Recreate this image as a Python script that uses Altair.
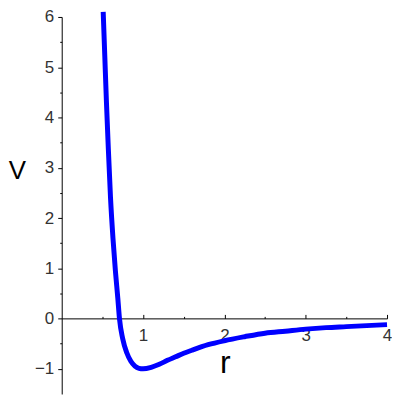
import altair as alt
import pandas as pd

# values
r_vals = [0.51, 0.53, 0.55, 0.57, 0.60, 0.63, 0.66, 0.69, 0.71, 0.75, 0.80, 0.85,
          0.90, 0.95, 1.00, 1.10, 1.20, 1.30, 1.40, 1.50, 1.60, 1.80, 2.00, 2.25,
          2.50, 2.75, 3.00, 3.25, 3.50, 3.75, 4.00]
v_vals = [6.1, 5.2, 4.3, 3.5, 2.4, 1.6, 0.95, 0.4, 0.0, -0.40, -0.68, -0.85,
          -0.945, -0.99, -1.0, -0.97, -0.91, -0.83, -0.76, -0.69, -0.63, -0.52, -0.44, -0.36,
          -0.29, -0.25, -0.21, -0.18, -0.16, -0.14, -0.12]

x_label_values = [1, 2, 3, 4]
x_tick_values = [0.5, 1, 1.5, 2, 2.5, 3, 3.5, 4]
y_tick_values = [-1, -0.5, 0, 0.5, 1, 1.5, 2, 2.5, 3, 3.5, 4, 4.5, 5, 5.5, 6]

df = pd.DataFrame({"r": r_vals, "V": v_vals})

FONT = "Liberation Sans"
LABEL_COLOR = "#333333"

xscale = alt.Scale(domain=[0, 4], nice=False, zero=False)
yscale = alt.Scale(domain=[-1.5, 6], nice=False, zero=False)

yaxis = alt.Axis(
    orient="left",
    values=y_tick_values,
    format="~g",
    labelExpr="datum.value % 1 == 0 ? datum.label : ''",
    grid=False,
    domainColor="black",
    tickColor="black",
    tickSize={"condition": {"test": "datum.value % 1 == 0", "value": 4}, "value": 2},
    labelFont=FONT,
    labelFontSize=17,
    labelColor=LABEL_COLOR,
    labelPadding=4,
    title="V",
    titleFont=FONT,
    titleFontSize=26,
    titleFontWeight="normal",
    titleColor="black",
    titleAngle=0,
    titleX=-45,
    titleY=154,
    titleAlign="center",
    titleBaseline="middle",
)

# axis carrying the line and labels, moved up to V = 0
xaxis_labels = alt.Axis(
    orient="bottom",
    offset=-76,
    values=x_label_values,
    format="~g",
    grid=False,
    ticks=False,
    tickSize=0,
    domainColor="black",
    labelFont=FONT,
    labelFontSize=17,
    labelColor=LABEL_COLOR,
    labelPadding=9,
    labelFlush=False,
    title="r",
    titleFont=FONT,
    titleFontSize=32,
    titleFontWeight="normal",
    titleColor="black",
    titleX=164,
    titleY=44,
    titleAlign="center",
    titleBaseline="middle",
)

# axis carrying the upward ticks, moved down to V = 0
xaxis_ticks = alt.Axis(
    orient="top",
    offset=-303,
    values=x_tick_values,
    grid=False,
    domain=False,
    labels=False,
    tickColor="black",
    tickSize={"condition": {"test": "datum.value % 1 == 0", "value": 4}, "value": 2},
    title=None,
)

line = alt.Chart(df).mark_line(color="#0000ff", strokeWidth=5, interpolate="monotone").encode(
    x=alt.X("r:Q", scale=xscale, axis=xaxis_labels),
    y=alt.Y("V:Q", scale=yscale, axis=yaxis),
)

ticks_layer = alt.Chart(df).mark_point(opacity=0).encode(
    x=alt.X("r:Q", scale=xscale, axis=xaxis_ticks),
    y=alt.Y("V:Q", scale=yscale, axis=yaxis),
)

chart = alt.layer(ticks_layer, line).resolve_axis(x="independent").properties(
    width=327,
    height=379,
    autosize=alt.AutoSizeParams(type="none"),
    padding={"left": 54, "top": 8, "right": 5, "bottom": 0},
    background="white",
).configure_view(stroke=None).configure_axisBottom(labelFontSize=17, labelFont=FONT)

chart.save("out.html", embed_options={"renderer": "svg", "actions": False})
